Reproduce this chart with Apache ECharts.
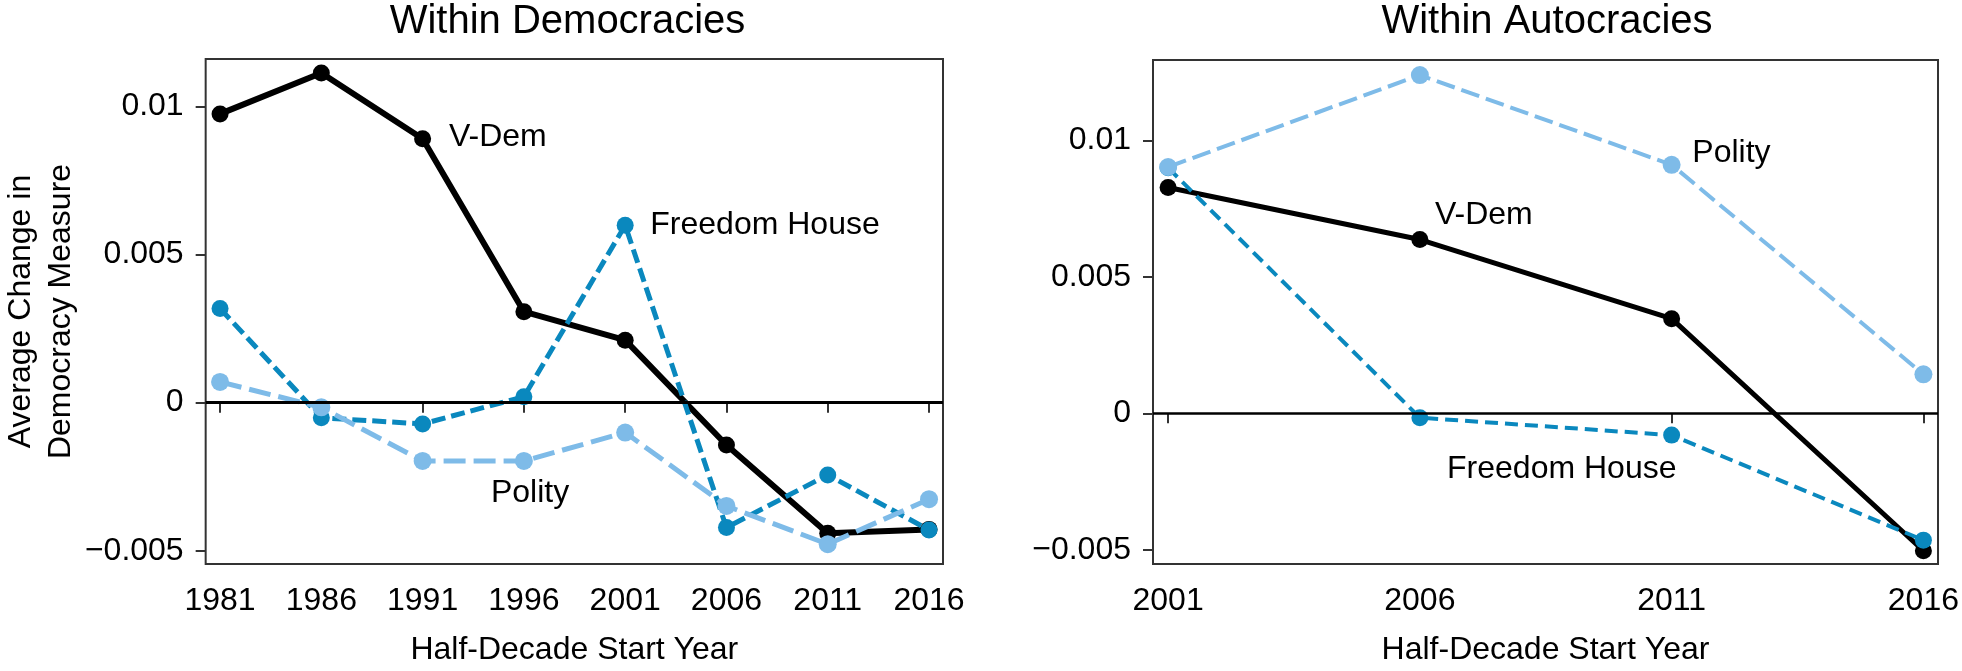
<!DOCTYPE html>
<html><head><meta charset="utf-8">
<script src="https://cdn.jsdelivr.net/npm/echarts@6/dist/echarts.min.js"></script>
<style>html,body{margin:0;padding:0;background:#fff}#c{width:1962px;height:671px}</style>
</head><body><div id="c"></div>
<script>
// ---- data ----
const demYears = [1981, 1986, 1991, 1996, 2001, 2006, 2011, 2016];
const demVDem = [0.00975, 0.01113, 0.00891, 0.00307, 0.00211, -0.00143, -0.00441, -0.00428];
const demFH = [0.00318, -0.00051, -0.00072, 0.00020, 0.00599, -0.00422, -0.00244, -0.00430];
const demPolity = [0.00070, -0.00016, -0.00197, -0.00197, -0.00101, -0.00349, -0.00478, -0.00326];

const autYears = [2001, 2006, 2011, 2016];
const autVDem = [0.00828, 0.00637, 0.00347, -0.00504];
const autFH = [0.00900, -0.00016, -0.00080, -0.00465];
const autPolity = [0.00903, 0.01240, 0.00911, 0.00143];

const yTicks = [-0.005, 0, 0.005, 0.01];
const yTickLabels = ['\u22120.005', '0', '0.005', '0.01'];

const titles = ['Within Democracies', 'Within Autocracies'];
const xTitle = 'Half-Decade Start Year';
const yTitle = 'Average Change in\nDemocracy Measure';
const seriesNames = ['V-Dem', 'Freedom House', 'Polity'];

// annotation anchors in data units
const demLabelAnchors = [[1992.3, 0.00898], [2002.24, 0.00599], [1994.37, -0.00305]];
const autLabelAnchors = [[2006.3, 0.00728], [2006.54, -0.00205], [2011.41, 0.00955]];

// ---- styling ----
const FONT = '"Liberation Sans", Arial, Helvetica, sans-serif';
const C_VDEM = '#000000', C_FH = '#0A88BE', C_POL = '#7EBBE8';
const grids = [
  {left: 192, top: 59, width: 751, height: 507},
  {left: 1153, top: 60, width: 788, height: 505}
];
const xRanges = [[1980.29, 2016.69], [2000.70, 2016.29]];
const yRanges = [[-0.005449, 0.011604], [-0.005525, 0.012953]];

function pairs(xs, ys) { return xs.map((x, i) => [x, ys[i]]); }
function yLab(v) {
  let best = 0;
  yTicks.forEach((t, i) => { if (Math.abs(t - v) < Math.abs(yTicks[best] - v)) best = i; });
  return yTickLabels[best];
}

const xAxes = [demYears, autYears].map((yrs, i) => ({
  type: 'value', gridIndex: i, min: xRanges[i][0], max: xRanges[i][1],
  axisLine: {show: false}, splitLine: {show: false},
  axisTick: {show: true, customValues: yrs, length: 10, lineStyle: {color: '#333', width: 2}},
  axisLabel: {customValues: yrs, margin: 21, fontSize: 32, color: '#000', fontFamily: FONT, formatter: v => String(v)},
  name: xTitle, nameLocation: 'middle', nameGap: 70,
  nameTextStyle: {fontSize: 32, color: '#000', fontFamily: FONT}
}));

const yAxes = [0, 1].map(i => ({
  type: 'value', gridIndex: i, min: yRanges[i][0], max: yRanges[i][1],
  axisLine: {show: false}, splitLine: {show: false},
  axisTick: {show: true, customValues: yTicks, length: 10, lineStyle: {color: '#333', width: 2}},
  axisLabel: {customValues: yTicks, margin: 22, fontSize: 32, color: '#000', fontFamily: FONT, formatter: yLab},
  name: i === 0 ? yTitle : '', nameLocation: 'middle', nameGap: 115,
  nameTextStyle: {fontSize: 32, lineHeight: 40, color: '#000', fontFamily: FONT}
}));

function lineSeries(gi, name, xs, ys, color, width, dash, size, zeroW) {
  const s = {
    type: 'line', name, xAxisIndex: gi, yAxisIndex: gi, data: pairs(xs, ys),
    symbol: 'circle', symbolSize: size, showSymbol: true,
    lineStyle: {color, width, type: dash || 'solid', join: 'round'},
    itemStyle: {color}, silent: true
  };
  if (zeroW) {
    s.markLine = {silent: true, symbol: ['none', 'none'], label: {show: false},
      lineStyle: {color: '#000', width: zeroW, type: 'solid'}, data: [{yAxis: 0}]};
  }
  return s;
}

function labelSeries(gi, anchors) {
  return {
    type: 'scatter', xAxisIndex: gi, yAxisIndex: gi, silent: true, symbolSize: 0,
    itemStyle: {color: '#000'},
    data: anchors.map((a, i) => ({name: seriesNames[i], value: a})),
    label: {show: true, position: 'right', distance: 0, formatter: p => p.name,
      fontSize: 32, color: '#000', opacity: 1, fontFamily: FONT}
  };
}

const series = [
  lineSeries(0, 'V-Dem', demYears, demVDem, C_VDEM, 6, null, 17, 3),
  lineSeries(0, 'Freedom House', demYears, demFH, C_FH, 5, [14, 6], 17),
  lineSeries(0, 'Polity', demYears, demPolity, C_POL, 5, [22, 8], 18),
  labelSeries(0, demLabelAnchors),
  lineSeries(1, 'V-Dem', autYears, autVDem, C_VDEM, 5, null, 17, 2.5),
  lineSeries(1, 'Freedom House', autYears, autFH, C_FH, 4, [13, 7], 17),
  lineSeries(1, 'Polity', autYears, autPolity, C_POL, 4, [19, 7], 18),
  labelSeries(1, autLabelAnchors)
];

const chart = echarts.init(document.getElementById('c'), null, {renderer: 'canvas'});
chart.setOption({
  animation: false,
  backgroundColor: '#fff',
  grid: grids.map(g => Object.assign({show: true, borderColor: '#333', borderWidth: 2, backgroundColor: 'transparent', containLabel: false}, g)),
  xAxis: xAxes,
  yAxis: yAxes,
  graphic: grids.map((g, i) => ({
    type: 'text', x: g.left + g.width / 2, y: 22,
    style: {text: titles[i], fontSize: 40, fill: '#000', fontFamily: FONT, textAlign: 'center', textVerticalAlign: 'middle'}
  })),
  series
});
</script></body></html>
